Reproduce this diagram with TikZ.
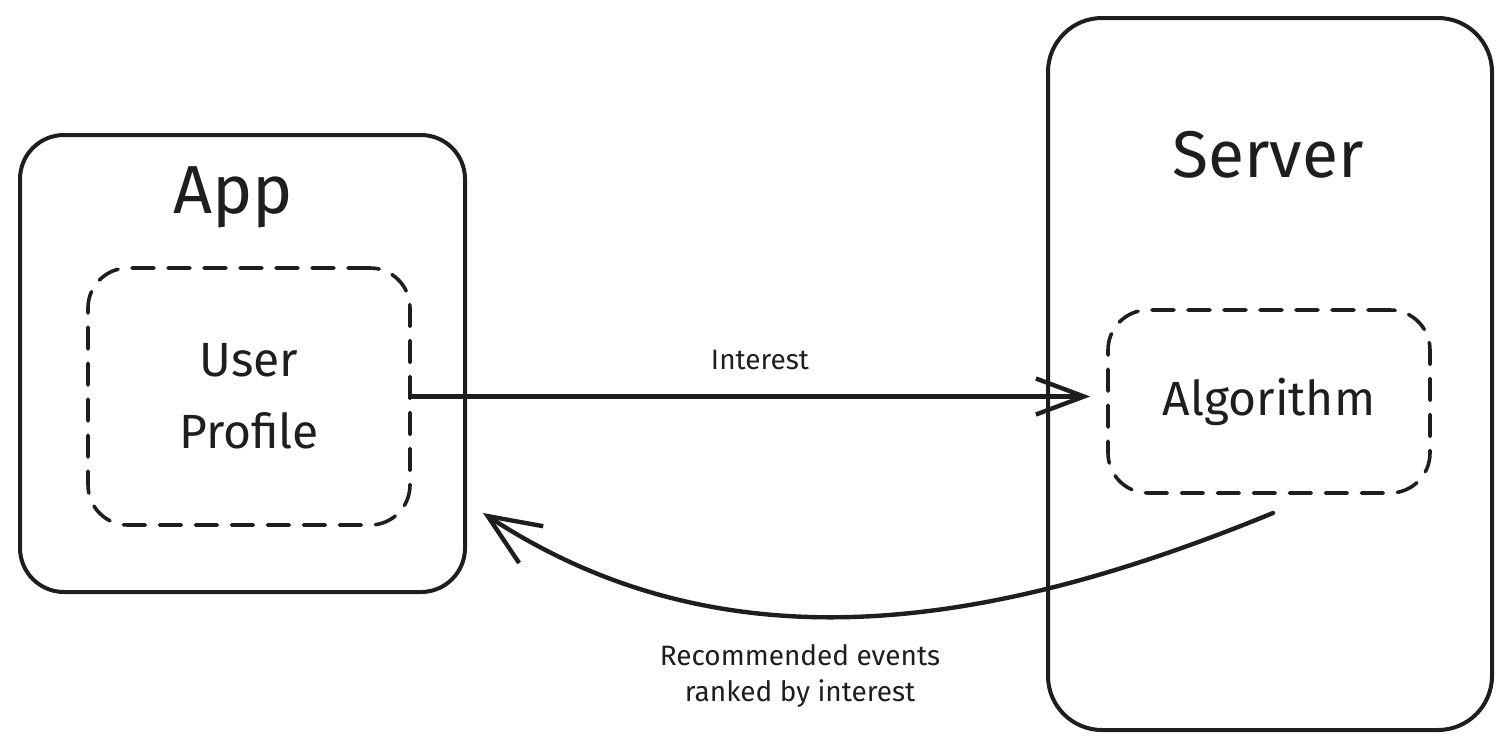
\documentclass[tikz,border=0pt]{standalone}
\usepackage{fontspec}
\setmainfont{Fira Sans}
\usetikzlibrary{arrows.meta}
\definecolor{ink}{HTML}{1E1E1E}
\tikzset{
  solidbox/.style={draw=ink, line width=2pt, rounded corners=22pt, inner sep=0pt},
  dashbox/.style={draw=ink, line width=1.8pt, rounded corners=20pt, dash pattern=on 11pt off 7pt, line cap=round, inner sep=0pt},
  lbl/.style={text=ink, inner sep=0pt, align=center},
  conn/.style={draw=ink, line width=2.2pt, line cap=round, -{Straight Barb[length=24pt,width=18pt,line width=2.2pt]}},
}
\begin{document}
\begin{tikzpicture}[x=0.5pt,y=-0.5pt]
\useasboundingbox (0,0) rectangle (1512,752);
% boxes
\node[solidbox, minimum width=222.5pt, minimum height=228.5pt] (app) at (242.5,363.5) {};
\node[solidbox, rounded corners=27pt, minimum width=222pt, minimum height=356pt] (server) at (1270,374) {};
\node[dashbox, minimum width=161pt, minimum height=128.5pt] (profile) at (249,396.5) {};
\node[dashbox, minimum width=161pt, minimum height=91.5pt] (algo) at (1269,401.5) {};
% titles
\node[lbl, font=\fontsize{34}{40}\selectfont] (apptitle) at (233,197) {App};
\node[lbl, font=\fontsize{33}{40}\selectfont] (servertitle) at (1268,155) {Server};
\node[lbl, font=\fontsize{24}{36}\selectfont] (profiletext) at (profile.center) {User\\Profile};
\node[lbl, font=\fontsize{24}{30}\selectfont] (algotext) at (algo.center) {Algorithm};
% connectors
\draw[conn] (profile.east) -- ([xshift=-8pt]algo.west |- profile.east);
\node[lbl, font=\fontsize{14}{17}\selectfont] (interest) at (760,360) {Interest};
\coordinate (rstart) at (1273,513);
\coordinate (rtip) at (483,513);
\draw[conn, -{Straight Barb[length=26pt,width=22pt,line width=2.2pt]}] (rstart) .. controls (1000,625) and (730,675) .. (rtip);
\node[lbl, font=\fontsize{14}{18}\selectfont] (rec) at (800,676) {Recommended events\\ranked by interest};
\end{tikzpicture}
\end{document}
